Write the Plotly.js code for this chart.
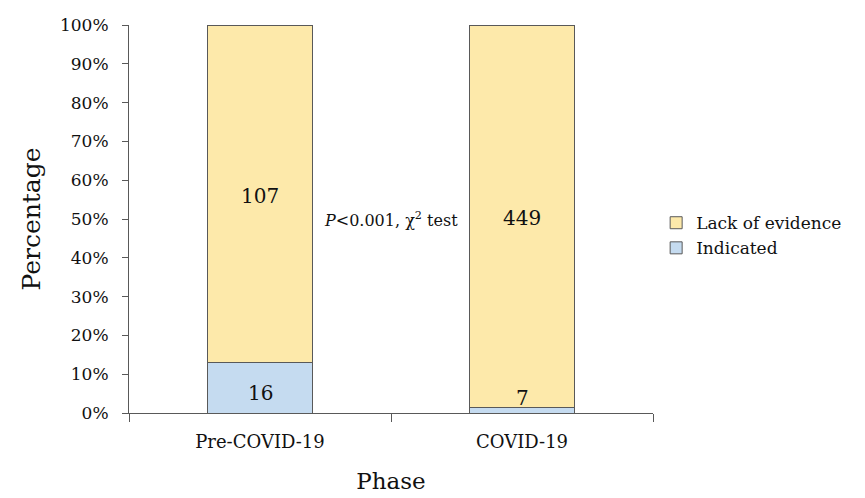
<!DOCTYPE html>
<html>
<head>
<meta charset="utf-8">
<script src="https://cdn.plot.ly/plotly-3.0.1.min.js"></script>
<style>html,body{margin:0;padding:0;background:#fff;}#chart{width:865px;height:498px;}</style>
</head>
<body>
<div id="chart"></div>
<script>
const phases = ["Pre-COVID-19", "COVID-19"];
const indicatedCounts = [16, 7];
const lackCounts = [107, 449];
const yTickVals = [0, 10, 20, 30, 40, 50, 60, 70, 80, 90, 100];
const yTickText = ["0%", "10%", "20%", "30%", "40%", "50%", "60%", "70%", "80%", "90%", "100%"];

const totals = indicatedCounts.map((v, i) => v + lackCounts[i]);
const indPct = indicatedCounts.map((v, i) => v / totals[i] * 100);
const lackPct = lackCounts.map((v, i) => v / totals[i] * 100);

const FONT = "DejaVu Serif, Georgia, serif";
const lineCol = "#595959";

const traces = [
  {type: "bar", name: "Indicated", x: phases, y: indPct, width: 0.4,
   marker: {color: "#C5DBF0", line: {color: lineCol, width: 1}}, hoverinfo: "none"},
  {type: "bar", name: "Lack of evidence", x: phases, y: lackPct, width: 0.4,
   marker: {color: "#FDE9AA", line: {color: lineCol, width: 1}}, hoverinfo: "none"}
];

const annotations = [];
phases.forEach((p, i) => {
  if (indPct[i] > 5) {
    annotations.push({x: p, y: indPct[i] / 2, text: String(indicatedCounts[i]), showarrow: false,
      font: {family: FONT, size: 20, color: "#111"}, yanchor: "middle", yshift: -5});
  } else {
    annotations.push({x: p, y: indPct[i], text: String(indicatedCounts[i]), showarrow: false,
      font: {family: FONT, size: 20, color: "#111"}, yanchor: "bottom", yshift: -5});
  }
  annotations.push({x: p, y: indPct[i] + lackPct[i] / 2, text: String(lackCounts[i]), showarrow: false,
    font: {family: FONT, size: 20, color: "#111"}, yanchor: "middle", yshift: -2});
});
annotations.push({x: 0.5, y: 50, xref: "x", yref: "y", text: "<i>P</i><0.001, χ<sup>2</sup> test",
  showarrow: false, font: {family: FONT, size: 16, color: "#111"}, bgcolor: "#fff"});

const layout = {
  width: 865, height: 498,
  margin: {l: 129, r: 212, t: 25, b: 85},
  barmode: "stack",
  paper_bgcolor: "#fff", plot_bgcolor: "#fff",
  font: {family: FONT, color: "#111"},
  showlegend: true,
  legend: {x: 1.006, y: 0.457, xanchor: "left", yanchor: "middle", traceorder: "reversed",
    font: {family: FONT, size: 17, color: "#111"}, itemwidth: 30, tracegroupgap: 0},
  xaxis: {type: "category", range: [-0.5, 1.5], showline: true, linecolor: lineCol, linewidth: 1,
    ticks: "outside", tickson: "boundaries", ticklen: 8, tickcolor: lineCol, showgrid: false,
    tickfont: {family: FONT, size: 18, color: "#111"}, ticklabelstandoff: 12,
    title: {text: "Phase", font: {family: FONT, size: 23, color: "#111"}, standoff: 22}},
  yaxis: {range: [0, 100], tickvals: yTickVals, ticktext: yTickText, showline: true, linecolor: lineCol,
    linewidth: 1, ticks: "outside", ticklen: 6, tickcolor: lineCol, showgrid: false, zeroline: false,
    tickfont: {family: FONT, size: 17, color: "#111"}, ticklabelstandoff: 10,
    title: {text: "Percentage", font: {family: FONT, size: 25, color: "#111"}, standoff: 12}},
  annotations: annotations
};

Plotly.newPlot("chart", traces, layout, {displayModeBar: false, staticPlot: true});
</script>
</body>
</html>
